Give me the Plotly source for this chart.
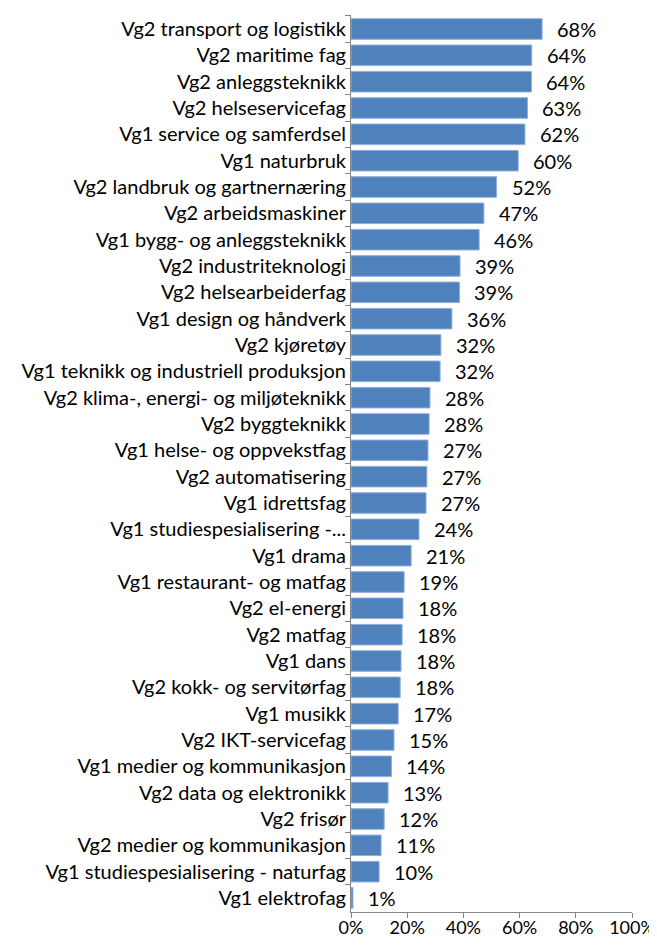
import plotly.graph_objects as go

categories = [
    "Vg2 transport og logistikk",
    "Vg2 maritime fag",
    "Vg2 anleggsteknikk",
    "Vg2 helseservicefag",
    "Vg1 service og samferdsel",
    "Vg1 naturbruk",
    "Vg2 landbruk og gartnernæring",
    "Vg2 arbeidsmaskiner",
    "Vg1 bygg- og anleggsteknikk",
    "Vg2 industriteknologi",
    "Vg2 helsearbeiderfag",
    "Vg1 design og håndverk",
    "Vg2 kjøretøy",
    "Vg1 teknikk og industriell produksjon",
    "Vg2 klima-, energi- og miljøteknikk",
    "Vg2 byggteknikk",
    "Vg1 helse- og oppvekstfag",
    "Vg2 automatisering",
    "Vg1 idrettsfag",
    "Vg1 studiespesialisering -...",
    "Vg1 drama",
    "Vg1 restaurant- og matfag",
    "Vg2 el-energi",
    "Vg2 matfag",
    "Vg1 dans",
    "Vg2 kokk- og servitørfag",
    "Vg1 musikk",
    "Vg2 IKT-servicefag",
    "Vg1 medier og kommunikasjon",
    "Vg2 data og elektronikk",
    "Vg2 frisør",
    "Vg2 medier og kommunikasjon",
    "Vg1 studiespesialisering - naturfag",
    "Vg1 elektrofag",
]

shares = [
    0.680, 0.643, 0.642, 0.628, 0.619, 0.595, 0.518, 0.473, 0.456, 0.388,
    0.386, 0.359, 0.320, 0.317, 0.281, 0.278, 0.274, 0.270, 0.267, 0.242,
    0.214, 0.189, 0.185, 0.182, 0.178, 0.175, 0.168, 0.153, 0.144, 0.132,
    0.118, 0.107, 0.100, 0.007,
]

labels = ["68%", "64%", "64%", "63%", "62%", "60%", "52%", "47%", "46%", "39%",
          "39%", "36%", "32%", "32%", "28%", "28%", "27%", "27%", "27%", "24%",
          "21%", "19%", "18%", "18%", "18%", "18%", "17%", "15%", "14%", "13%",
          "12%", "11%", "10%", "1%"]

x_ticks = [0, 0.2, 0.4, 0.6, 0.8, 1.0]

font = "Lato, Open Sans, sans-serif"

fig = go.Figure(go.Bar(
    x=shares,
    y=categories,
    orientation="h",
    marker=dict(color="#4F81BD", line=dict(color="#8EAEDB", width=1)),
    hoverinfo="x+y",
))

for v, c, t in zip(shares, categories, labels):
    fig.add_annotation(
        x=v, y=c, text=t,
        xanchor="left", xshift=13, showarrow=False,
        font=dict(size=20, color="black", family=font),
    )

fig.update_layout(
    width=649,
    height=929,
    margin=dict(l=343, r=25, t=7, b=25),
    plot_bgcolor="white",
    paper_bgcolor="white",
    bargap=0.22,
    showlegend=False,
    font=dict(family=font, size=20, color="black"),
)
fig.update_xaxes(
    range=[0, 1],
    tickvals=x_ticks,
    tickformat=".0%",
    ticks="outside",
    ticklen=5,
    tickcolor="#868686",
    showline=True,
    linecolor="#868686",
    showgrid=False,
    zeroline=False,
    automargin=False,
    ticklabeloverflow="allow",
    ticklabelstandoff=-6,
    tickfont=dict(size=18),
)
fig.update_yaxes(
    autorange="reversed",
    ticks="outside",
    tickson="boundaries",
    ticklen=5,
    tickcolor="#868686",
    showline=True,
    linecolor="#868686",
    showgrid=False,
    automargin=False,
    ticklabeloverflow="allow",
)

fig.write_html("out.html")
